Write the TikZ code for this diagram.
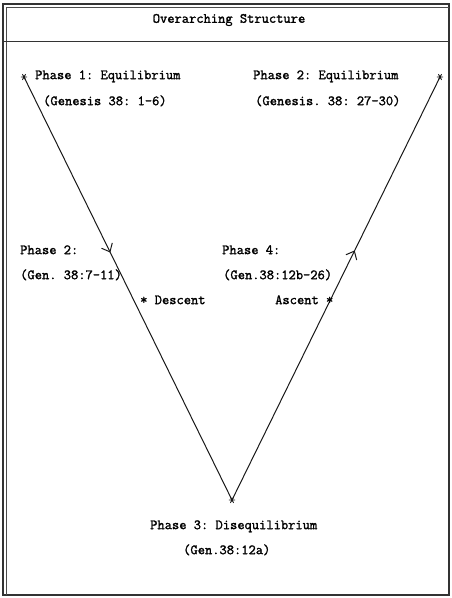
\documentclass[tikz,border=0pt]{standalone}
\usepackage{fontspec}
\setmainfont{Latin Modern Mono}[FakeBold=1.6]
\usetikzlibrary{arrows.meta,decorations.markings}
\frenchspacing

\tikzset{
  lbl/.style={anchor=mid west, inner sep=0pt, font=\fontsize{14.1}{16}\selectfont},
  conn/.style={line width=1pt, black!90},
  midarrow/.style={decoration={markings,
      mark=at position #1 with {\arrow{Straight Barb[length=7pt,width=12pt,line width=1pt]}}},
    postaction=decorate},
  ast/.pic={\draw[line width=0.9pt, black!90]
      (-3.2,0)--(3.2,0) (-1.6,-2.8)--(1.6,2.8) (-1.6,2.8)--(1.6,-2.8);}
}

\begin{document}
\begin{tikzpicture}[x=1pt,y=-1pt]
  \useasboundingbox (0,0) rectangle (451,598);

  % frame with doubled top and left edges, and the heading rule
  \draw[line width=1.2pt, black!80] (3,4) rectangle (449,595);
  \draw[line width=0.8pt, black!70] (6.5,595) -- (6.5,7.5) -- (449,7.5);
  \draw[line width=0.8pt, black!80] (3,41) -- (449,41);

  \node[lbl, anchor=center] (title) at (229,20) {Overarching Structure};

  % the three turning points of the V
  \coordinate (tl) at (24,77);
  \coordinate (tr) at (440,77);
  \coordinate (bot) at (232,500);
  \pic at (tl) {ast};
  \pic at (tr) {ast};
  \pic at (bot) {ast};

  % descent and ascent
  \draw[conn, midarrow=0.415] (tl) -- (bot);
  \draw[conn, midarrow=0.59] (bot) -- (tr);

  % labels
  \node[lbl] (p1)  at (35,77)   {Phase 1: Equilibrium};
  \node[lbl] (p1r) at (43,103)  {(Genesis 38: 1-6)};
  \node[lbl] (p5)  at (253,77)  {Phase 2: Equilibrium};
  \node[lbl] (p5r) at (255,103) {(Genesis. 38: 27-30)};
  \node[lbl] (p2)  at (20,252)  {Phase 2:};
  \node[lbl] (p2r) at (20,277)  {(Gen. 38:7-11)};
  \node[lbl] (dsc) at (140,302) {* Descent};
  \node[lbl] (p4)  at (222,252) {Phase 4:};
  \node[lbl] (p4r) at (223,277) {(Gen.38:12b-26)};
  \node[lbl] (asc) at (275,302) {Ascent *};
  \node[lbl] (p3)  at (150,527) {Phase 3: Disequilibrium};
  \node[lbl] (p3r) at (183,552) {(Gen.38:12a)};
\end{tikzpicture}
\end{document}
